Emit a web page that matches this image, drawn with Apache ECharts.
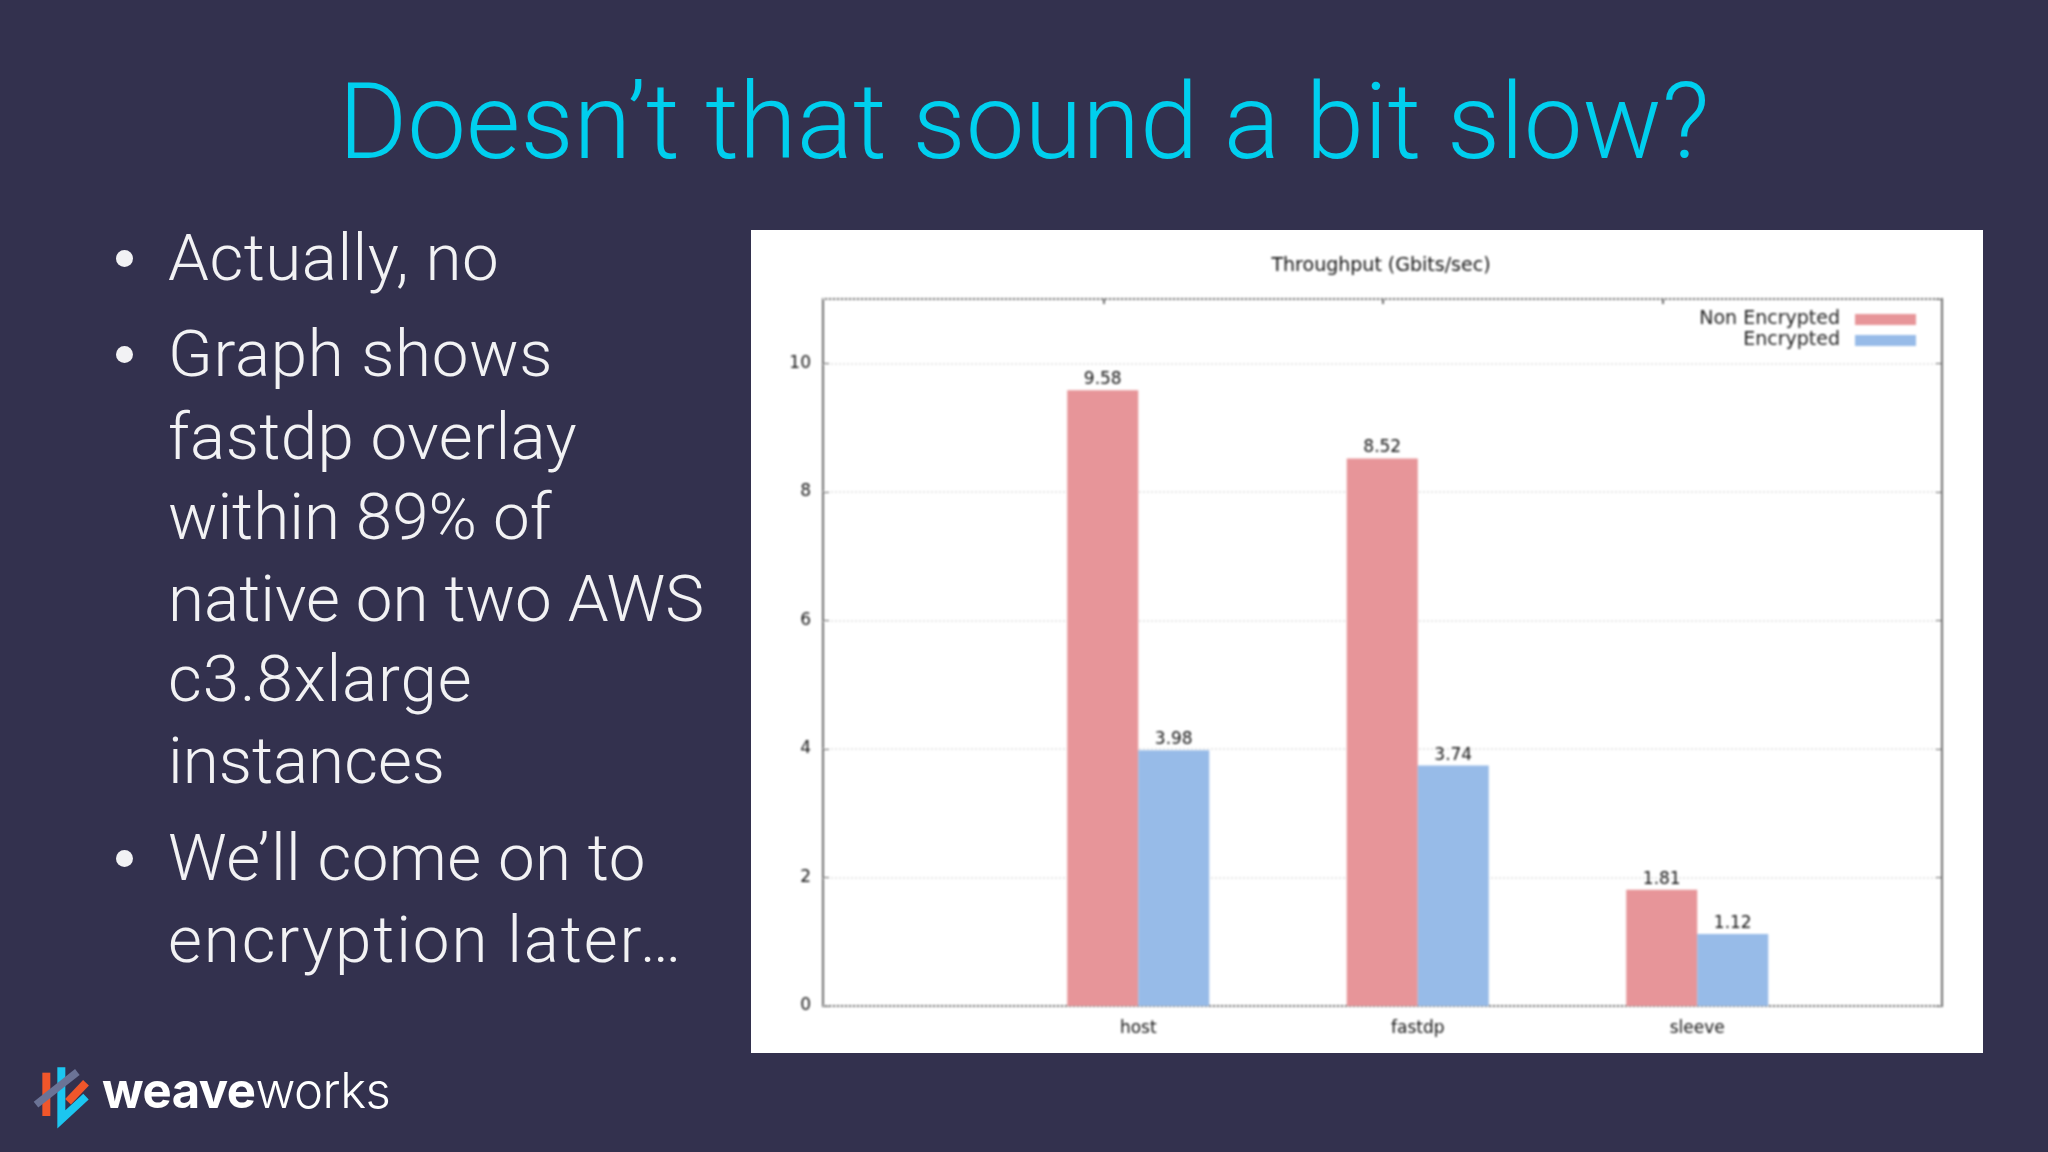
<!DOCTYPE html>
<html>
<head>
<meta charset="utf-8">
<style>
  html, body { margin: 0; padding: 0; width: 2048px; height: 1152px; overflow: hidden; background: #33314e; }
  .slide-title { position: absolute; left: 0; top: 53px; width: 2048px; text-align: center; color: #00cfee;
    font: 300 105px Roboto, "Liberation Sans", sans-serif; line-height: 140px; white-space: nowrap; }
  .line { position: absolute; left: 168px; color: #f2f2f4; font: 300 65.5px Roboto, "Liberation Sans", sans-serif;
    line-height: 80px; white-space: nowrap; }
  .dot { position: absolute; left: 116px; width: 17px; height: 17px; border-radius: 50%; background: #f2f2f4; }
  #panel { position: absolute; left: 751px; top: 230px; width: 1232px; height: 823px; background: #fff; }
  #chart { width: 1232px; height: 823px; filter: blur(1.1px); }
  #logo { position: absolute; left: 0; top: 1030px; }
  .brand { position: absolute; left: 102px; top: 1059px; color: #fff; font: 700 49px Inter, "Liberation Sans", sans-serif; line-height: 64px; letter-spacing: -0.5px; }
  .brand span { font-weight: 300; }
</style>
<script src="https://cdn.jsdelivr.net/npm/echarts@6/dist/echarts.min.js"></script>
</head>
<body>
<div class="slide-title">Doesn’t that sound a bit slow?</div>
<div id="bullets"></div>
<div id="panel"><div id="chart"></div></div>
<svg id="logo" width="420" height="122" viewBox="0 0 1260 366">
  <path d="M139 128 V258" stroke="#f0562a" stroke-width="24" fill="none"/>
  <path d="M204 215 L258 158" stroke="#f0562a" stroke-width="24" fill="none"/>
  <path d="M184 112 V268 L258 200" stroke="#1cc6f0" stroke-width="24" fill="none"/>
  <path d="M108 224 L232 126" stroke="#6b7396" stroke-width="22" fill="none"/>
</svg>
<div class="brand">weave<span>works</span></div>
<script>
// slide text: line, middle y, has bullet, letter spacing
const bulletLines = [
  ["Actually, no", 258, true, 0.5],
  ["Graph shows", 354, true, 0.7],
  ["fastdp overlay", 437, false, 0.4],
  ["within 89% of", 517, false, 0],
  ["native on two AWS", 599, false, 0],
  ["c3.8xlarge", 679, false, 0.9],
  ["instances", 761, false, 0],
  ["We’ll come on to", 858, true, 0.4],
  ["encryption later…", 940, false, 1.9]
];
bulletLines.forEach(function (l) {
  const d = document.createElement("div");
  d.className = "line";
  d.textContent = l[0];
  d.style.top = (l[1] - 40) + "px";
  d.style.letterSpacing = l[3] + "px";
  document.getElementById("bullets").appendChild(d);
  if (l[2]) {
    const b = document.createElement("div");
    b.className = "dot";
    b.style.top = (l[1] - 8) + "px";
    document.getElementById("bullets").appendChild(b);
  }
});

// chart data
const categories = ["host", "fastdp", "sleeve"];
const nonEncrypted = [9.58, 8.52, 1.81];
const encrypted = [3.98, 3.74, 1.12];
const font = "DejaVu Sans";
const frame = "#707070";

const myChart = echarts.init(document.getElementById("chart"));
const barLabel = { show: true, position: "top", distance: 2, color: "#111", fontFamily: font, fontSize: 17,
  formatter: function (p) { return p.value.toFixed(2); } };
const plotY = { top: 69, bottom: 47 };
const hiddenY = function (g) {
  return { type: "value", gridIndex: g, min: 0, max: 11, show: false };
};
myChart.setOption({
  animation: false,
  title: { text: "Throughput (Gbits/sec)", left: 625, top: 22, textAlign: "center",
    textStyle: { fontFamily: font, fontSize: 19, fontWeight: "normal", color: "#111" } },
  legend: { right: 62, top: 75, orient: "vertical", align: "right", itemWidth: 61, itemHeight: 11, itemGap: 2,
    icon: "rect", textStyle: { fontFamily: font, fontSize: 19, color: "#222", padding: [0, 10, 0, 0] },
    data: ["Non Encrypted", "Encrypted"] },
  grid: [
    { left: 72, right: 41, top: plotY.top, bottom: plotY.bottom, show: true, borderColor: frame, borderWidth: 2, backgroundColor: "transparent" },
    { left: 247.5, width: 838.5, top: plotY.top, bottom: plotY.bottom },
    { left: 212.5, width: 838.5, top: plotY.top, bottom: plotY.bottom }
  ],
  xAxis: [
    { type: "value", gridIndex: 0, show: false, min: 0, max: 1 },
    { type: "category", gridIndex: 1, data: categories, axisLine: { show: false }, axisTick: { show: false },
      axisLabel: { color: "#111", fontFamily: font, fontSize: 17, margin: 14 } },
    { type: "category", gridIndex: 2, position: "top", data: categories, axisLine: { show: false, onZero: false },
      axisTick: { show: true, inside: true, alignWithLabel: true, length: 5, lineStyle: { color: frame, width: 2 } },
      axisLabel: { show: false } }
  ],
  yAxis: [
    { type: "value", gridIndex: 0, min: 0, max: 11, interval: 2,
      axisLine: { show: false },
      axisTick: { show: true, inside: true, length: 6, lineStyle: { color: frame } },
      axisLabel: { color: "#111", fontFamily: font, fontSize: 17, margin: 12, showMaxLabel: false },
      splitLine: { show: true, lineStyle: { color: "#e6e6e6", type: "dotted", width: 2 } } },
    { type: "value", gridIndex: 0, position: "right", min: 0, max: 11, interval: 2,
      axisLine: { show: false },
      axisTick: { show: true, inside: true, length: 6, lineStyle: { color: frame } },
      axisLabel: { show: false }, splitLine: { show: false } },
    hiddenY(1),
    hiddenY(2)
  ],
  series: [
    { name: "Non Encrypted", type: "bar", xAxisIndex: 1, yAxisIndex: 2, data: nonEncrypted, barWidth: 71, barGap: 0,
      itemStyle: { color: "#e79599" }, label: barLabel },
    { name: "Encrypted", type: "bar", xAxisIndex: 1, yAxisIndex: 2, data: encrypted, barWidth: 71, barGap: 0,
      itemStyle: { color: "#97bbe8" }, label: barLabel }
  ]
});
</script>
</body>
</html>
